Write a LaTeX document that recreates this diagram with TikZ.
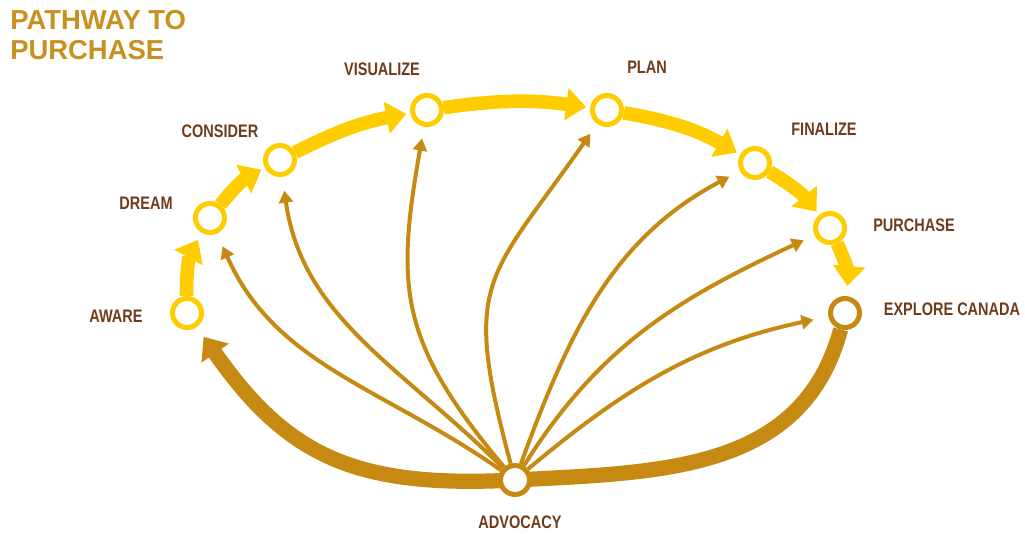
\documentclass[tikz,border=0pt]{standalone}
\usepackage{fontspec}
\setmainfont{Liberation Sans}
\newfontfamily\condensed[FakeStretch=0.8]{Liberation Sans}
\usetikzlibrary{arrows.meta}
\usetikzlibrary{backgrounds}
\definecolor{pathColor}{HTML}{FFCC00}
\definecolor{advocacyColor}{HTML}{C68A12}
\definecolor{nameColor}{HTML}{6E3C1A}
\definecolor{titleColor}{HTML}{C8901E}

\begin{document}
\begin{tikzpicture}[x=0.025cm, y=0.025cm,
    stage/.style={circle, draw=pathColor, fill=white, line width=0.125cm, minimum size=0.725cm, inner sep=0pt},
    hub/.style={stage, draw=advocacyColor},
    stagename/.style={text=nameColor, inner sep=0pt, font={\condensed\bfseries\fontsize{12.9}{14}\selectfont}},
    forward/.style={draw=pathColor, line width=0.34cm, -{Triangle[width=0.78cm,length=0.5cm]}, shorten >=0.1cm},
    advocate/.style={draw=advocacyColor, line width=0.38cm, -{Triangle[width=0.8cm,length=0.5cm]}, shorten >=0.3cm},
    refer/.style={draw=advocacyColor, line width=0.1cm, -{Triangle[width=0.35cm,length=0.3cm]}, shorten >=0.3cm}]
  \useasboundingbox (0,0) rectangle (1025,533);

  % title
  \node[anchor=north west, inner sep=0pt, align=left, text=titleColor, font={\bfseries\fontsize{19.5}{21.3}\selectfont}] (title) at (10,523) {PATHWAY TO\\PURCHASE};

  % stages
  \node[stage] (aware) at (187,220) {};
  \node[stage] (dream) at (210,315) {};
  \node[stage] (consider) at (280,373) {};
  \node[stage] (visualize) at (427,423) {};
  \node[stage] (plan) at (607,423) {};
  \node[stage] (finalize) at (755,370) {};
  \node[stage] (purchase) at (830,305) {};
  \node[hub] (explore) at (845,220) {};
  \node[hub] (advocacy) at (515,53) {};

  \node[stagename] (awareName) at (116,217) {AWARE};
  \node[stagename] (dreamName) at (146,330) {DREAM};
  \node[stagename] (considerName) at (220,402) {CONSIDER};
  \node[stagename] (visualizeName) at (382,464) {VISUALIZE};
  \node[stagename] (planName) at (647,466) {PLAN};
  \node[stagename] (finalizeName) at (824,404) {FINALIZE};
  \node[stagename] (purchaseName) at (914,308) {PURCHASE};
  \node[stagename] (exploreName) at (952,224) {EXPLORE CANADA};
  \node[stagename] (advocacyName) at (520,11) {ADVOCACY};

  \begin{scope}[on background layer]
    \draw[forward, shorten >=0.2cm] (aware) to[bend left=15] (dream);
    \draw[forward] (dream) to[bend left=12] (consider);
    \draw[forward] (consider) to[bend left=8] (visualize);
    \draw[forward] (visualize) to[bend left=8] (plan);
    \draw[forward] (plan) to[bend left=10] (finalize);
    \draw[forward] (finalize) to[bend left=10] (purchase);
    \draw[forward, shorten >=0.25cm] (purchase) to[bend left=15] (explore);

    \draw[advocate] (explore) to[out=-105,in=3,looseness=1.05] (advocacy.center) to[out=183,in=-55,looseness=1.15] (aware);

    \draw[refer, shorten >=0.35cm] (advocacy) to[out=145,in=-66] (dream);
    \draw[refer, shorten >=0.35cm] (advocacy) to[out=135,in=-82] (consider);
    \draw[refer] (advocacy) to[out=130,in=-100,looseness=1.2] (visualize);
    \draw[refer] (advocacy) to[out=105,in=-125,looseness=1.4] (plan);
    \draw[refer] (advocacy) to[out=70,in=-152] (finalize);
    \draw[refer] (advocacy) to[out=58,in=-155] (purchase);
    \draw[refer, shorten >=0.38cm] (advocacy) to[out=40,in=-168] (explore);
  \end{scope}
\end{tikzpicture}
\end{document}
